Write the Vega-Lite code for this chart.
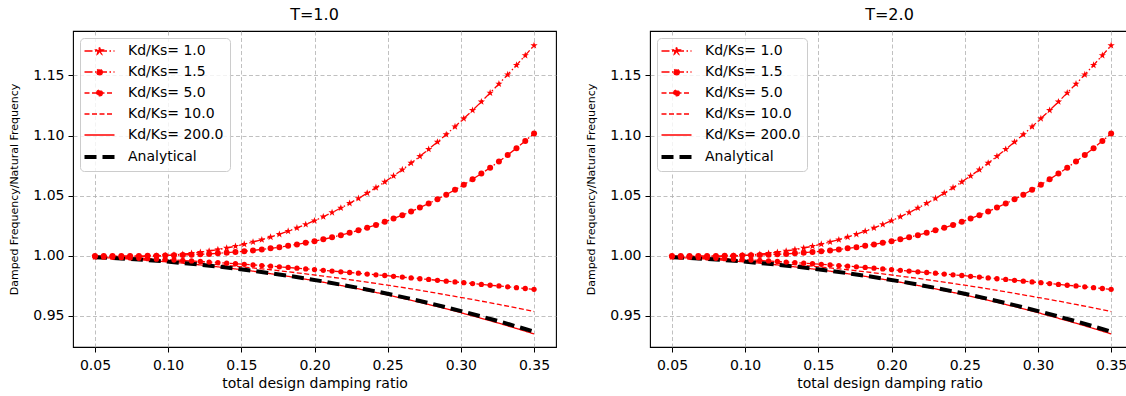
{
  "$schema": "https://vega.github.io/schema/vega-lite/v6.json",
  "padding": {"left": 8, "top": 6, "right": 0, "bottom": 2},
  "background": "white",
  "datasets": {
    "d": [
      {"x":0.05,"s":"Kd/Ks= 1.0","y":0.9990},{"x":0.056,"s":"Kd/Ks= 1.0","y":0.9989},{"x":0.062,"s":"Kd/Ks= 1.0","y":0.9989},{"x":0.068,"s":"Kd/Ks= 1.0","y":0.9989},{"x":0.074,"s":"Kd/Ks= 1.0","y":0.9990},{"x":0.08,"s":"Kd/Ks= 1.0","y":0.9991},{"x":0.086,"s":"Kd/Ks= 1.0","y":0.9993},{"x":0.092,"s":"Kd/Ks= 1.0","y":0.9997},{"x":0.098,"s":"Kd/Ks= 1.0","y":1.0001},{"x":0.104,"s":"Kd/Ks= 1.0","y":1.0006},{"x":0.11,"s":"Kd/Ks= 1.0","y":1.0012},{"x":0.116,"s":"Kd/Ks= 1.0","y":1.0020},{"x":0.122,"s":"Kd/Ks= 1.0","y":1.0029},{"x":0.128,"s":"Kd/Ks= 1.0","y":1.0039},{"x":0.134,"s":"Kd/Ks= 1.0","y":1.0051},{"x":0.14,"s":"Kd/Ks= 1.0","y":1.0064},{"x":0.146,"s":"Kd/Ks= 1.0","y":1.0079},{"x":0.152,"s":"Kd/Ks= 1.0","y":1.0096},{"x":0.158,"s":"Kd/Ks= 1.0","y":1.0114},{"x":0.164,"s":"Kd/Ks= 1.0","y":1.0133},{"x":0.17,"s":"Kd/Ks= 1.0","y":1.0155},{"x":0.176,"s":"Kd/Ks= 1.0","y":1.0178},{"x":0.182,"s":"Kd/Ks= 1.0","y":1.0204},{"x":0.188,"s":"Kd/Ks= 1.0","y":1.0231},{"x":0.194,"s":"Kd/Ks= 1.0","y":1.0260},{"x":0.2,"s":"Kd/Ks= 1.0","y":1.0291},{"x":0.206,"s":"Kd/Ks= 1.0","y":1.0324},{"x":0.212,"s":"Kd/Ks= 1.0","y":1.0359},{"x":0.218,"s":"Kd/Ks= 1.0","y":1.0397},{"x":0.224,"s":"Kd/Ks= 1.0","y":1.0436},{"x":0.23,"s":"Kd/Ks= 1.0","y":1.0477},{"x":0.236,"s":"Kd/Ks= 1.0","y":1.0521},{"x":0.242,"s":"Kd/Ks= 1.0","y":1.0566},{"x":0.248,"s":"Kd/Ks= 1.0","y":1.0614},{"x":0.254,"s":"Kd/Ks= 1.0","y":1.0664},{"x":0.26,"s":"Kd/Ks= 1.0","y":1.0716},{"x":0.266,"s":"Kd/Ks= 1.0","y":1.0771},{"x":0.272,"s":"Kd/Ks= 1.0","y":1.0827},{"x":0.278,"s":"Kd/Ks= 1.0","y":1.0886},{"x":0.284,"s":"Kd/Ks= 1.0","y":1.0946},{"x":0.29,"s":"Kd/Ks= 1.0","y":1.1009},{"x":0.296,"s":"Kd/Ks= 1.0","y":1.1074},{"x":0.302,"s":"Kd/Ks= 1.0","y":1.1141},{"x":0.308,"s":"Kd/Ks= 1.0","y":1.1210},{"x":0.314,"s":"Kd/Ks= 1.0","y":1.1281},{"x":0.32,"s":"Kd/Ks= 1.0","y":1.1355},{"x":0.326,"s":"Kd/Ks= 1.0","y":1.1430},{"x":0.332,"s":"Kd/Ks= 1.0","y":1.1507},{"x":0.338,"s":"Kd/Ks= 1.0","y":1.1586},{"x":0.344,"s":"Kd/Ks= 1.0","y":1.1667},{"x":0.35,"s":"Kd/Ks= 1.0","y":1.1750},
      {"x":0.05,"s":"Kd/Ks= 1.5","y":0.9998},{"x":0.056,"s":"Kd/Ks= 1.5","y":0.9997},{"x":0.062,"s":"Kd/Ks= 1.5","y":0.9997},{"x":0.068,"s":"Kd/Ks= 1.5","y":0.9997},{"x":0.074,"s":"Kd/Ks= 1.5","y":0.9998},{"x":0.08,"s":"Kd/Ks= 1.5","y":0.9998},{"x":0.086,"s":"Kd/Ks= 1.5","y":0.9999},{"x":0.092,"s":"Kd/Ks= 1.5","y":1.0000},{"x":0.098,"s":"Kd/Ks= 1.5","y":1.0002},{"x":0.104,"s":"Kd/Ks= 1.5","y":1.0003},{"x":0.11,"s":"Kd/Ks= 1.5","y":1.0006},{"x":0.116,"s":"Kd/Ks= 1.5","y":1.0008},{"x":0.122,"s":"Kd/Ks= 1.5","y":1.0012},{"x":0.128,"s":"Kd/Ks= 1.5","y":1.0015},{"x":0.134,"s":"Kd/Ks= 1.5","y":1.0020},{"x":0.14,"s":"Kd/Ks= 1.5","y":1.0025},{"x":0.146,"s":"Kd/Ks= 1.5","y":1.0031},{"x":0.152,"s":"Kd/Ks= 1.5","y":1.0037},{"x":0.158,"s":"Kd/Ks= 1.5","y":1.0044},{"x":0.164,"s":"Kd/Ks= 1.5","y":1.0052},{"x":0.17,"s":"Kd/Ks= 1.5","y":1.0061},{"x":0.176,"s":"Kd/Ks= 1.5","y":1.0071},{"x":0.182,"s":"Kd/Ks= 1.5","y":1.0082},{"x":0.188,"s":"Kd/Ks= 1.5","y":1.0094},{"x":0.194,"s":"Kd/Ks= 1.5","y":1.0107},{"x":0.2,"s":"Kd/Ks= 1.5","y":1.0121},{"x":0.206,"s":"Kd/Ks= 1.5","y":1.0136},{"x":0.212,"s":"Kd/Ks= 1.5","y":1.0153},{"x":0.218,"s":"Kd/Ks= 1.5","y":1.0171},{"x":0.224,"s":"Kd/Ks= 1.5","y":1.0190},{"x":0.23,"s":"Kd/Ks= 1.5","y":1.0211},{"x":0.236,"s":"Kd/Ks= 1.5","y":1.0233},{"x":0.242,"s":"Kd/Ks= 1.5","y":1.0256},{"x":0.248,"s":"Kd/Ks= 1.5","y":1.0282},{"x":0.254,"s":"Kd/Ks= 1.5","y":1.0309},{"x":0.26,"s":"Kd/Ks= 1.5","y":1.0337},{"x":0.266,"s":"Kd/Ks= 1.5","y":1.0368},{"x":0.272,"s":"Kd/Ks= 1.5","y":1.0400},{"x":0.278,"s":"Kd/Ks= 1.5","y":1.0434},{"x":0.284,"s":"Kd/Ks= 1.5","y":1.0470},{"x":0.29,"s":"Kd/Ks= 1.5","y":1.0508},{"x":0.296,"s":"Kd/Ks= 1.5","y":1.0549},{"x":0.302,"s":"Kd/Ks= 1.5","y":1.0591},{"x":0.308,"s":"Kd/Ks= 1.5","y":1.0636},{"x":0.314,"s":"Kd/Ks= 1.5","y":1.0683},{"x":0.32,"s":"Kd/Ks= 1.5","y":1.0732},{"x":0.326,"s":"Kd/Ks= 1.5","y":1.0784},{"x":0.332,"s":"Kd/Ks= 1.5","y":1.0838},{"x":0.338,"s":"Kd/Ks= 1.5","y":1.0895},{"x":0.344,"s":"Kd/Ks= 1.5","y":1.0955},{"x":0.35,"s":"Kd/Ks= 1.5","y":1.1017},
      {"x":0.05,"s":"Kd/Ks= 5.0","y":0.9991},{"x":0.056,"s":"Kd/Ks= 5.0","y":0.9989},{"x":0.062,"s":"Kd/Ks= 5.0","y":0.9987},{"x":0.068,"s":"Kd/Ks= 5.0","y":0.9984},{"x":0.074,"s":"Kd/Ks= 5.0","y":0.9981},{"x":0.08,"s":"Kd/Ks= 5.0","y":0.9978},{"x":0.086,"s":"Kd/Ks= 5.0","y":0.9975},{"x":0.092,"s":"Kd/Ks= 5.0","y":0.9971},{"x":0.098,"s":"Kd/Ks= 5.0","y":0.9968},{"x":0.104,"s":"Kd/Ks= 5.0","y":0.9964},{"x":0.11,"s":"Kd/Ks= 5.0","y":0.9960},{"x":0.116,"s":"Kd/Ks= 5.0","y":0.9956},{"x":0.122,"s":"Kd/Ks= 5.0","y":0.9952},{"x":0.128,"s":"Kd/Ks= 5.0","y":0.9947},{"x":0.134,"s":"Kd/Ks= 5.0","y":0.9943},{"x":0.14,"s":"Kd/Ks= 5.0","y":0.9938},{"x":0.146,"s":"Kd/Ks= 5.0","y":0.9933},{"x":0.152,"s":"Kd/Ks= 5.0","y":0.9928},{"x":0.158,"s":"Kd/Ks= 5.0","y":0.9923},{"x":0.164,"s":"Kd/Ks= 5.0","y":0.9918},{"x":0.17,"s":"Kd/Ks= 5.0","y":0.9913},{"x":0.176,"s":"Kd/Ks= 5.0","y":0.9907},{"x":0.182,"s":"Kd/Ks= 5.0","y":0.9902},{"x":0.188,"s":"Kd/Ks= 5.0","y":0.9896},{"x":0.194,"s":"Kd/Ks= 5.0","y":0.9890},{"x":0.2,"s":"Kd/Ks= 5.0","y":0.9884},{"x":0.206,"s":"Kd/Ks= 5.0","y":0.9878},{"x":0.212,"s":"Kd/Ks= 5.0","y":0.9872},{"x":0.218,"s":"Kd/Ks= 5.0","y":0.9866},{"x":0.224,"s":"Kd/Ks= 5.0","y":0.9860},{"x":0.23,"s":"Kd/Ks= 5.0","y":0.9854},{"x":0.236,"s":"Kd/Ks= 5.0","y":0.9847},{"x":0.242,"s":"Kd/Ks= 5.0","y":0.9841},{"x":0.248,"s":"Kd/Ks= 5.0","y":0.9835},{"x":0.254,"s":"Kd/Ks= 5.0","y":0.9828},{"x":0.26,"s":"Kd/Ks= 5.0","y":0.9822},{"x":0.266,"s":"Kd/Ks= 5.0","y":0.9815},{"x":0.272,"s":"Kd/Ks= 5.0","y":0.9808},{"x":0.278,"s":"Kd/Ks= 5.0","y":0.9802},{"x":0.284,"s":"Kd/Ks= 5.0","y":0.9795},{"x":0.29,"s":"Kd/Ks= 5.0","y":0.9788},{"x":0.296,"s":"Kd/Ks= 5.0","y":0.9782},{"x":0.302,"s":"Kd/Ks= 5.0","y":0.9775},{"x":0.308,"s":"Kd/Ks= 5.0","y":0.9768},{"x":0.314,"s":"Kd/Ks= 5.0","y":0.9761},{"x":0.32,"s":"Kd/Ks= 5.0","y":0.9754},{"x":0.326,"s":"Kd/Ks= 5.0","y":0.9748},{"x":0.332,"s":"Kd/Ks= 5.0","y":0.9741},{"x":0.338,"s":"Kd/Ks= 5.0","y":0.9734},{"x":0.344,"s":"Kd/Ks= 5.0","y":0.9727},{"x":0.35,"s":"Kd/Ks= 5.0","y":0.9720},
      {"x":0.05,"s":"Kd/Ks= 10.0","y":0.9989},{"x":0.062,"s":"Kd/Ks= 10.0","y":0.9984},{"x":0.074,"s":"Kd/Ks= 10.0","y":0.9977},{"x":0.086,"s":"Kd/Ks= 10.0","y":0.9969},{"x":0.098,"s":"Kd/Ks= 10.0","y":0.9960},{"x":0.11,"s":"Kd/Ks= 10.0","y":0.9950},{"x":0.122,"s":"Kd/Ks= 10.0","y":0.9938},{"x":0.134,"s":"Kd/Ks= 10.0","y":0.9926},{"x":0.146,"s":"Kd/Ks= 10.0","y":0.9912},{"x":0.158,"s":"Kd/Ks= 10.0","y":0.9898},{"x":0.17,"s":"Kd/Ks= 10.0","y":0.9883},{"x":0.182,"s":"Kd/Ks= 10.0","y":0.9866},{"x":0.194,"s":"Kd/Ks= 10.0","y":0.9849},{"x":0.206,"s":"Kd/Ks= 10.0","y":0.9830},{"x":0.218,"s":"Kd/Ks= 10.0","y":0.9811},{"x":0.23,"s":"Kd/Ks= 10.0","y":0.9790},{"x":0.242,"s":"Kd/Ks= 10.0","y":0.9769},{"x":0.254,"s":"Kd/Ks= 10.0","y":0.9747},{"x":0.266,"s":"Kd/Ks= 10.0","y":0.9724},{"x":0.278,"s":"Kd/Ks= 10.0","y":0.9699},{"x":0.29,"s":"Kd/Ks= 10.0","y":0.9674},{"x":0.302,"s":"Kd/Ks= 10.0","y":0.9648},{"x":0.314,"s":"Kd/Ks= 10.0","y":0.9622},{"x":0.326,"s":"Kd/Ks= 10.0","y":0.9594},{"x":0.338,"s":"Kd/Ks= 10.0","y":0.9565},{"x":0.35,"s":"Kd/Ks= 10.0","y":0.9535},
      {"x":0.05,"s":"Kd/Ks= 200.0","y":0.9987},{"x":0.062,"s":"Kd/Ks= 200.0","y":0.9980},{"x":0.074,"s":"Kd/Ks= 200.0","y":0.9972},{"x":0.086,"s":"Kd/Ks= 200.0","y":0.9962},{"x":0.098,"s":"Kd/Ks= 200.0","y":0.9950},{"x":0.11,"s":"Kd/Ks= 200.0","y":0.9938},{"x":0.122,"s":"Kd/Ks= 200.0","y":0.9923},{"x":0.134,"s":"Kd/Ks= 200.0","y":0.9907},{"x":0.146,"s":"Kd/Ks= 200.0","y":0.9890},{"x":0.158,"s":"Kd/Ks= 200.0","y":0.9871},{"x":0.17,"s":"Kd/Ks= 200.0","y":0.9850},{"x":0.182,"s":"Kd/Ks= 200.0","y":0.9828},{"x":0.194,"s":"Kd/Ks= 200.0","y":0.9804},{"x":0.206,"s":"Kd/Ks= 200.0","y":0.9779},{"x":0.218,"s":"Kd/Ks= 200.0","y":0.9752},{"x":0.23,"s":"Kd/Ks= 200.0","y":0.9724},{"x":0.242,"s":"Kd/Ks= 200.0","y":0.9694},{"x":0.254,"s":"Kd/Ks= 200.0","y":0.9662},{"x":0.266,"s":"Kd/Ks= 200.0","y":0.9629},{"x":0.278,"s":"Kd/Ks= 200.0","y":0.9594},{"x":0.29,"s":"Kd/Ks= 200.0","y":0.9558},{"x":0.302,"s":"Kd/Ks= 200.0","y":0.9519},{"x":0.314,"s":"Kd/Ks= 200.0","y":0.9479},{"x":0.326,"s":"Kd/Ks= 200.0","y":0.9438},{"x":0.338,"s":"Kd/Ks= 200.0","y":0.9394},{"x":0.35,"s":"Kd/Ks= 200.0","y":0.9349},
      {"x":0.05,"s":"Analytical","y":0.9987},{"x":0.062,"s":"Analytical","y":0.9981},{"x":0.074,"s":"Analytical","y":0.9973},{"x":0.086,"s":"Analytical","y":0.9963},{"x":0.098,"s":"Analytical","y":0.9952},{"x":0.11,"s":"Analytical","y":0.9939},{"x":0.122,"s":"Analytical","y":0.9925},{"x":0.134,"s":"Analytical","y":0.9910},{"x":0.146,"s":"Analytical","y":0.9893},{"x":0.158,"s":"Analytical","y":0.9874},{"x":0.17,"s":"Analytical","y":0.9854},{"x":0.182,"s":"Analytical","y":0.9833},{"x":0.194,"s":"Analytical","y":0.9810},{"x":0.206,"s":"Analytical","y":0.9786},{"x":0.218,"s":"Analytical","y":0.9759},{"x":0.23,"s":"Analytical","y":0.9732},{"x":0.242,"s":"Analytical","y":0.9703},{"x":0.254,"s":"Analytical","y":0.9672},{"x":0.266,"s":"Analytical","y":0.9640},{"x":0.278,"s":"Analytical","y":0.9606},{"x":0.29,"s":"Analytical","y":0.9570},{"x":0.302,"s":"Analytical","y":0.9533},{"x":0.314,"s":"Analytical","y":0.9494},{"x":0.326,"s":"Analytical","y":0.9454},{"x":0.338,"s":"Analytical","y":0.9411},{"x":0.35,"s":"Analytical","y":0.9368}
    ]
  },
  "spacing": 28,
  "hconcat": [
    {
      "title": {"text": "T=1.0"},
      "width": 483,
      "height": 316,
      "data": {"name": "d"},
      "layer": [
        {
          "mark": {"type": "line", "strokeCap": "butt"},
          "encoding": {
            "x": {"field": "x", "type": "quantitative", "scale": {"domain": [0.035, 0.365], "nice": false, "zero": false},
                  "axis": {"values": [0.05, 0.1, 0.15, 0.2, 0.25, 0.3, 0.35], "format": ".2f", "title": "total design damping ratio", "titleFontSize": 14, "titlePadding": 4, "labelPadding": 6, "labelFlush": false}},
            "y": {"field": "y", "type": "quantitative", "scale": {"domain": [0.924, 1.187], "nice": false, "zero": false},
                  "axis": {"values": [0.95, 1.0, 1.05, 1.1, 1.15], "format": ".2f", "title": "Damped Frequency/Natural Frequency", "titleFontSize": 11, "titlePadding": 13}},
            "color": {"field": "s", "type": "nominal",
                      "scale": {"domain": ["Kd/Ks= 1.0", "Kd/Ks= 1.5", "Kd/Ks= 5.0", "Kd/Ks= 10.0", "Kd/Ks= 200.0", "Analytical"], "range": ["#ff0000", "#ff0000", "#ff0000", "#ff0000", "#ff0000", "#000000"]},
                      "legend": {"title": null, "orient": "top-left", "offset": 7, "padding": 6, "fillColor": "rgba(255,255,255,0.8)", "strokeColor": "#cccccc", "cornerRadius": 4,
                                 "labelFontSize": 14, "labelColor": "black", "symbolSize": 225, "symbolOffset": 6.5, "labelOffset": 21.5, "rowPadding": 7, "symbolType": "stroke",
                                 "encode": {"symbols": {"update": {
                                   "shape": {"signal": "datum.value === 'Kd/Ks= 1.0' ? 'M-2,0L2,0M0,-0.5L0.12,-0.165L0.475,-0.155L0.194,0.064L0.294,0.405L0,0.2L-0.294,0.405L-0.194,0.064L-0.475,-0.155L-0.12,-0.165Z' : (datum.value === 'Kd/Ks= 1.5' || datum.value === 'Kd/Ks= 5.0') ? 'M-2,0L2,0M0.38,0A0.38,0.38 0 1,1 -0.38,0A0.38,0.38 0 1,1 0.38,0Z' : 'M-2,0L2,0'"},
                                   "fill": {"signal": "(datum.value === 'Kd/Ks= 1.0' || datum.value === 'Kd/Ks= 1.5' || datum.value === 'Kd/Ks= 5.0') ? '#ff0000' : 'transparent'"},
                                   "strokeWidth": {"signal": "datum.value === 'Analytical' ? 4 : 1.3"},
                                   "strokeDash": {"signal": "datum.value === 'Analytical' ? [12,6] : datum.value === 'Kd/Ks= 200.0' ? [1,0] : (datum.value === 'Kd/Ks= 1.0' || datum.value === 'Kd/Ks= 1.5') ? [8,2.5,1.5,2.5] : [5,2.5]"}
                                 }}}}},
            "strokeDash": {"field": "s", "type": "nominal", "legend": null,
                           "scale": {"domain": ["Kd/Ks= 1.0", "Kd/Ks= 1.5", "Kd/Ks= 5.0", "Kd/Ks= 10.0", "Kd/Ks= 200.0", "Analytical"], "range": [[8, 2.5, 1.5, 2.5], [8, 2.5, 1.5, 2.5], [5, 2.5], [5, 2.5], [1, 0], [12, 6]]}},
            "strokeWidth": {"condition": {"test": "datum.s === 'Analytical'", "value": 4}, "value": 1.3}
          }
        },
        {
          "transform": [{"filter": "datum.s === 'Kd/Ks= 1.0'"}],
          "mark": {"type": "point", "shape": "M0,-1L0.235,-0.324L0.951,-0.309L0.38,0.124L0.588,0.809L0,0.4L-0.588,0.809L-0.38,0.124L-0.951,-0.309L-0.235,-0.324Z", "filled": true, "color": "#ff0000", "size": 58, "opacity": 1, "strokeWidth": 0},
          "encoding": {"x": {"field": "x", "type": "quantitative"}, "y": {"field": "y", "type": "quantitative"}}
        },
        {
          "transform": [{"filter": "datum.s === 'Kd/Ks= 1.5' || datum.s === 'Kd/Ks= 5.0'"}],
          "mark": {"type": "circle", "color": "#ff0000", "opacity": 1},
          "encoding": {"x": {"field": "x", "type": "quantitative"}, "y": {"field": "y", "type": "quantitative"},
                       "size": {"condition": {"test": "datum.s === 'Kd/Ks= 1.5'", "value": 36}, "value": 28}}
        }
      ]
    },
    {
      "title": {"text": "T=2.0"},
      "width": 479,
      "height": 316,
      "data": {"name": "d"},
      "layer": [
        {
          "mark": {"type": "line", "strokeCap": "butt"},
          "encoding": {
            "x": {"field": "x", "type": "quantitative", "scale": {"domain": [0.035, 0.3622], "nice": false, "zero": false},
                  "axis": {"values": [0.05, 0.1, 0.15, 0.2, 0.25, 0.3, 0.35], "format": ".2f", "title": "total design damping ratio", "titleFontSize": 14, "titlePadding": 4, "labelPadding": 6, "labelFlush": false}},
            "y": {"field": "y", "type": "quantitative", "scale": {"domain": [0.924, 1.187], "nice": false, "zero": false},
                  "axis": {"values": [0.95, 1.0, 1.05, 1.1, 1.15], "format": ".2f", "title": "Damped Frequency/Natural Frequency", "titleFontSize": 11, "titlePadding": 13}},
            "color": {"field": "s", "type": "nominal",
                      "scale": {"domain": ["Kd/Ks= 1.0", "Kd/Ks= 1.5", "Kd/Ks= 5.0", "Kd/Ks= 10.0", "Kd/Ks= 200.0", "Analytical"], "range": ["#ff0000", "#ff0000", "#ff0000", "#ff0000", "#ff0000", "#000000"]},
                      "legend": {"title": null, "orient": "top-left", "offset": 7, "padding": 6, "fillColor": "rgba(255,255,255,0.8)", "strokeColor": "#cccccc", "cornerRadius": 4,
                                 "labelFontSize": 14, "labelColor": "black", "symbolSize": 225, "symbolOffset": 6.5, "labelOffset": 21.5, "rowPadding": 7, "symbolType": "stroke",
                                 "encode": {"symbols": {"update": {
                                   "shape": {"signal": "datum.value === 'Kd/Ks= 1.0' ? 'M-2,0L2,0M0,-0.5L0.12,-0.165L0.475,-0.155L0.194,0.064L0.294,0.405L0,0.2L-0.294,0.405L-0.194,0.064L-0.475,-0.155L-0.12,-0.165Z' : (datum.value === 'Kd/Ks= 1.5' || datum.value === 'Kd/Ks= 5.0') ? 'M-2,0L2,0M0.38,0A0.38,0.38 0 1,1 -0.38,0A0.38,0.38 0 1,1 0.38,0Z' : 'M-2,0L2,0'"},
                                   "fill": {"signal": "(datum.value === 'Kd/Ks= 1.0' || datum.value === 'Kd/Ks= 1.5' || datum.value === 'Kd/Ks= 5.0') ? '#ff0000' : 'transparent'"},
                                   "strokeWidth": {"signal": "datum.value === 'Analytical' ? 4 : 1.3"},
                                   "strokeDash": {"signal": "datum.value === 'Analytical' ? [12,6] : datum.value === 'Kd/Ks= 200.0' ? [1,0] : (datum.value === 'Kd/Ks= 1.0' || datum.value === 'Kd/Ks= 1.5') ? [8,2.5,1.5,2.5] : [5,2.5]"}
                                 }}}}},
            "strokeDash": {"field": "s", "type": "nominal", "legend": null,
                           "scale": {"domain": ["Kd/Ks= 1.0", "Kd/Ks= 1.5", "Kd/Ks= 5.0", "Kd/Ks= 10.0", "Kd/Ks= 200.0", "Analytical"], "range": [[8, 2.5, 1.5, 2.5], [8, 2.5, 1.5, 2.5], [5, 2.5], [5, 2.5], [1, 0], [12, 6]]}},
            "strokeWidth": {"condition": {"test": "datum.s === 'Analytical'", "value": 4}, "value": 1.3}
          }
        },
        {
          "transform": [{"filter": "datum.s === 'Kd/Ks= 1.0'"}],
          "mark": {"type": "point", "shape": "M0,-1L0.235,-0.324L0.951,-0.309L0.38,0.124L0.588,0.809L0,0.4L-0.588,0.809L-0.38,0.124L-0.951,-0.309L-0.235,-0.324Z", "filled": true, "color": "#ff0000", "size": 58, "opacity": 1, "strokeWidth": 0},
          "encoding": {"x": {"field": "x", "type": "quantitative"}, "y": {"field": "y", "type": "quantitative"}}
        },
        {
          "transform": [{"filter": "datum.s === 'Kd/Ks= 1.5' || datum.s === 'Kd/Ks= 5.0'"}],
          "mark": {"type": "circle", "color": "#ff0000", "opacity": 1},
          "encoding": {"x": {"field": "x", "type": "quantitative"}, "y": {"field": "y", "type": "quantitative"},
                       "size": {"condition": {"test": "datum.s === 'Kd/Ks= 1.5'", "value": 36}, "value": 28}}
        }
      ]
    }
  ],
  "resolve": {
    "scale": {"x": "independent", "y": "independent", "color": "independent", "strokeDash": "independent"},
    "axis": {"x": "independent", "y": "independent"},
    "legend": {"color": "independent"}
  },
  "config": {
    "font": "DejaVu Sans",
    "view": {"stroke": "#000000", "strokeWidth": 1.1},
    "axis": {"domain": false, "grid": true, "gridColor": "#b0b0b0", "gridDash": [4, 2.5], "gridWidth": 0.8,
             "tickColor": "#000000", "tickSize": 5, "tickWidth": 1, "labelColor": "#000000", "labelFontSize": 14, "labelPadding": 4,
             "titleColor": "#000000", "titleFontWeight": "normal", "labelFont": "DejaVu Sans", "titleFont": "DejaVu Sans"},
    "title": {"fontSize": 16, "fontWeight": "normal", "color": "#000000", "offset": 8, "anchor": "middle", "font": "DejaVu Sans"},
    "legend": {"labelFont": "DejaVu Sans"}
  }
}
